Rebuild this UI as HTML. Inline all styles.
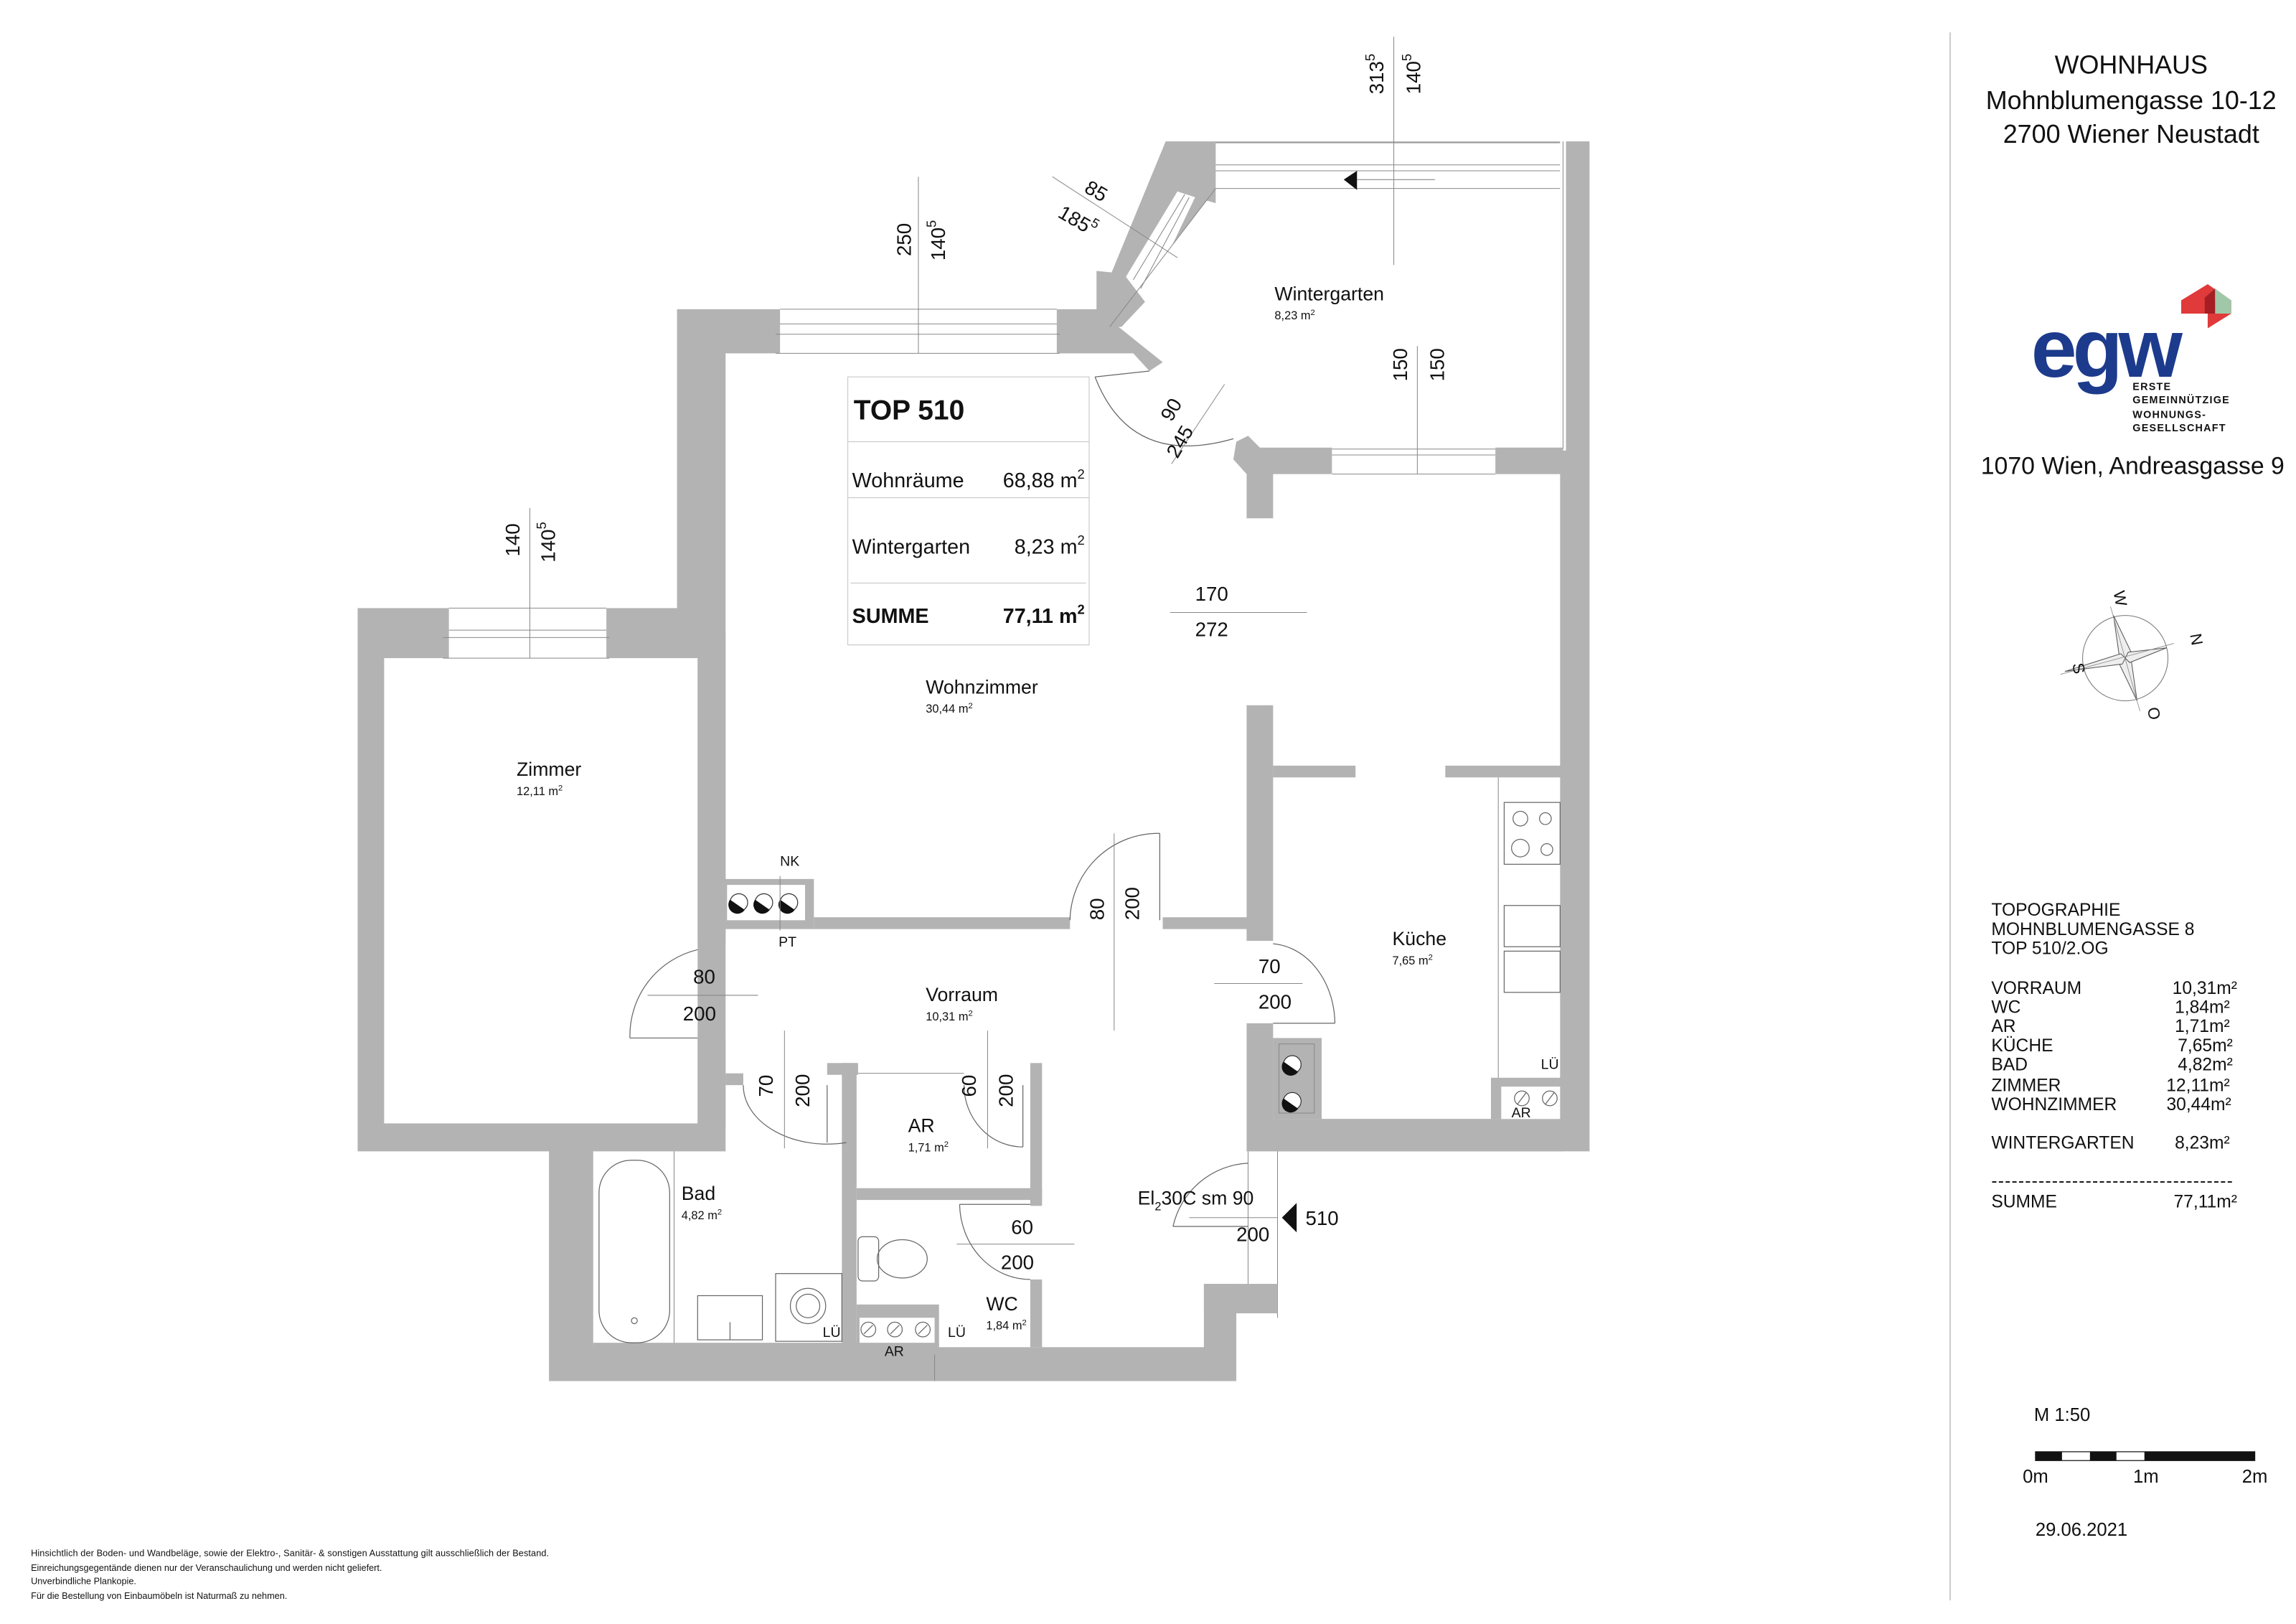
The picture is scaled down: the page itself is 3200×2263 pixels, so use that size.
<!DOCTYPE html>
<html><head><meta charset="utf-8"><style>
html,body{margin:0;padding:0;background:#fff}
svg{display:block}
text{font-family:"Liberation Sans",sans-serif;fill:#111}
.w{font-family:"Liberation Sans",sans-serif}
.g{fill:#b3b3b3}
.l{stroke:#666;stroke-width:.6;fill:none}
.t{stroke:#888;stroke-width:.5;fill:none}
</style></head><body>
<svg width="3200" height="2263" viewBox="0 0 1560 1103" preserveAspectRatio="none" xmlns="http://www.w3.org/2000/svg">
<rect width="1560" height="1103" fill="#fff"/>
<polygon class="g" points="243,413 460,413 460,210 745,210 792,96 1080,96 1080,782 868,782 868,872 838,872 838,938 373,938 373,782 243,782"/>
<polygon fill="#fff" points="493,240 718,240 718,222 754,222 826,128 1060,128 1060,760 865,760 865,782 848,782 848,872 818,872 818,915 403,915 403,782 493,782"/>
<rect x="261" y="447" width="213" height="316" fill="#fff"/>
<polygon class="g" points="718,222 760,222 790,246 781,252 770,240 718,240"/>
<polygon class="g" points="792,96 826,96 826,138 812,134 800,130"/>
<polygon class="g" points="745,184 765,186 778,205 762,222 745,222"/>
<polygon fill="#fff" points="765,188 800,130 812,134 778,205"/>
<line class="t" x1="770" y1="190" x2="805" y2="132"/><line class="t" x1="775" y1="196" x2="808" y2="134"/>
<line class="t" x1="754" y1="222" x2="826" y2="128"/>
<rect x="530" y="210" width="188" height="30" fill="#fff"/>
<line class="t" x1="530" y1="210" x2="718" y2="210"/><line class="t" x1="530" y1="220" x2="718" y2="220"/><line class="t" x1="527" y1="227" x2="720" y2="227"/><line class="t" x1="527" y1="240" x2="720" y2="240"/>
<rect x="305" y="413" width="107" height="34" fill="#fff"/>
<line class="t" x1="305" y1="413" x2="412" y2="413"/><line class="t" x1="305" y1="428" x2="412" y2="428"/><line class="t" x1="301" y1="433" x2="414" y2="433"/><line class="t" x1="301" y1="447" x2="414" y2="447"/>
<rect x="826" y="97" width="234" height="31" fill="#fff"/>
<line class="t" x1="826" y1="97" x2="1060" y2="97"/><line class="t" x1="826" y1="112" x2="1060" y2="112"/><line class="t" x1="826" y1="116" x2="1060" y2="116"/><line class="t" x1="826" y1="128" x2="1060" y2="128"/>
<rect x="1060" y="96" width="4" height="210" fill="#fff"/><line class="t" x1="1062" y1="96" x2="1062" y2="305"/>
<polygon class="g" points="840,300 848,296 856,304 905,304 905,322 865,322 865,352 847,352 847,322 838,312"/>
<rect class="g" x="1016" y="304" width="46" height="18"/>
<rect x="905" y="305" width="111" height="17" fill="#fff"/>
<line class="t" x1="905" y1="305" x2="1016" y2="305"/><line class="t" x1="905" y1="309" x2="1016" y2="309"/><line class="t" x1="905" y1="322" x2="1016" y2="322"/>
<rect class="g" x="474" y="430" width="19" height="210"/>
<rect class="g" x="474" y="705" width="19" height="60"/>
<rect class="g" x="553" y="623" width="174" height="8"/>
<rect class="g" x="790" y="623" width="58" height="8"/>
<rect class="g" x="847" y="479" width="18" height="160"/>
<rect class="g" x="865" y="520" width="56" height="8"/>
<rect class="g" x="982" y="520" width="80" height="8"/>
<rect class="g" x="847" y="695" width="18" height="87"/>
<rect class="g" x="848" y="760" width="214" height="22"/>
<rect class="g" x="865" y="705" width="33" height="55"/>
<rect x="869" y="709" width="24" height="47" fill="#fff" class="t"/>
<rect class="g" x="491" y="597" width="62" height="34"/>
<rect x="494" y="601" width="53" height="24" fill="#fff"/>
<g fill="#fff" stroke="#333" stroke-width=".6">
<circle cx="502" cy="613" r="6"/><circle cx="519" cy="613" r="6"/><circle cx="536" cy="613" r="6"/>
<circle cx="878" cy="723" r="6"/><circle cx="878" cy="748" r="6"/></g>
<g fill="#111"><path d="M496,611 A6,6 0 0 0 506,618 Z"/><path d="M513,611 A6,6 0 0 0 523,618 Z"/><path d="M530,611 A6,6 0 0 0 540,618 Z"/><path d="M872,721 A6,6 0 0 0 882,728 Z"/><path d="M872,746 A6,6 0 0 0 882,753 Z"/></g>
<rect class="g" x="493" y="729" width="12" height="8"/>
<rect class="g" x="562" y="722" width="21" height="8"/>
<rect class="g" x="572" y="722" width="10" height="192"/>
<rect class="g" x="700" y="722" width="8" height="97"/>
<rect class="g" x="582" y="807" width="126" height="8"/>
<rect class="g" x="700" y="869" width="8" height="46"/>
<rect class="g" x="393" y="782" width="10" height="138"/>
<rect class="g" x="403" y="912" width="235" height="8"/>
<line class="t" x1="583" y1="729" x2="655" y2="729"/>
<line class="t" x1="635" y1="920" x2="635" y2="938"/>
<rect class="g" x="582" y="886" width="56" height="28"/>
<rect x="584" y="895" width="51" height="17" fill="#fff"/>
<g class="l"><circle cx="590" cy="903" r="5"/><circle cx="608" cy="903" r="5"/><circle cx="627" cy="903" r="5"/><line x1="587" y1="906" x2="593" y2="900"/><line x1="605" y1="906" x2="611" y2="900"/><line x1="624" y1="906" x2="630" y2="900"/></g>
<rect class="l" x="407" y="788" width="48" height="124" rx="22"/>
<line class="t" x1="458" y1="782" x2="458" y2="912"/>
<circle cx="431" cy="897" r="2" class="l"/>
<rect class="l" x="474" y="880" width="44" height="30"/>
<line class="l" x1="496" y1="898" x2="496" y2="910"/>
<rect class="l" x="527" y="865" width="45" height="46"/>
<circle cx="549" cy="887" r="12" class="l"/><circle cx="549" cy="887" r="8" class="l"/>
<rect class="l" x="583" y="840" width="14" height="30" rx="3"/>
<ellipse class="l" cx="613" cy="855" rx="17" ry="13"/>
<line class="t" x1="1018" y1="528" x2="1018" y2="740"/>
<rect class="l" x="1022" y="545" width="38" height="42"/>
<g class="l"><circle cx="1033" cy="556" r="5"/><circle cx="1050" cy="556" r="4"/><circle cx="1033" cy="576" r="6"/><circle cx="1051" cy="577" r="4"/></g>
<rect class="l" x="1022" y="615" width="38" height="28"/><rect class="l" x="1022" y="646" width="38" height="28"/>
<rect class="g" x="1013" y="732" width="49" height="28"/>
<rect x="1020" y="738" width="40" height="22" fill="#fff"/>
<g class="l"><circle cx="1034" cy="746" r="5"/><circle cx="1053" cy="746" r="5"/><line x1="1031" y1="750" x2="1037" y2="742"/><line x1="1050" y1="750" x2="1056" y2="742"/></g>
<rect x="848" y="782" width="20" height="90" fill="#fff"/>
<line class="t" x1="848" y1="782" x2="848" y2="872"/><line class="t" x1="868" y1="782" x2="868" y2="895"/>
<rect class="g" x="818" y="872" width="50" height="20"/>
<rect class="g" x="818" y="872" width="22" height="66"/>
<g class="l">
<path d="M428,705 A60,60 0 0 1 474,645"/><line x1="428" y1="705" x2="474" y2="705"/>
<path d="M727,625 A60,60 0 0 1 788,566"/><line x1="788" y1="566" x2="788" y2="625"/>
<path d="M865,641 A45,55 0 0 1 907,695"/><line x1="865" y1="695" x2="907" y2="695"/>
<path d="M505,737 A57,40 0 0 0 575,776"/><line x1="562" y1="737" x2="562" y2="776"/>
<path d="M655,737 A40,42 0 0 0 695,779"/><line x1="695" y1="737" x2="695" y2="779"/>
<path d="M700,869 A48,52 0 0 1 652,818"/><line x1="652" y1="818" x2="700" y2="818"/>
<path d="M797,833 A55,55 0 0 1 848,790"/><line x1="797" y1="833" x2="848" y2="833"/>
<path d="M744,256 Q768,318 838,298"/><line x1="744" y1="256" x2="781" y2="252"/>
</g>
<g class="t">
<line x1="624" y1="120" x2="624" y2="240"/>
<line x1="715" y1="120" x2="800" y2="175"/>
<line x1="947" y1="25" x2="947" y2="180"/>
<line x1="922" y1="122" x2="975" y2="122"/>
<line x1="963" y1="235" x2="963" y2="322"/>
<line x1="795" y1="416" x2="888" y2="416"/>
<line x1="360" y1="345" x2="360" y2="447"/>
<line x1="440" y1="676" x2="515" y2="676"/>
<line x1="757" y1="566" x2="757" y2="700"/>
<line x1="825" y1="668" x2="885" y2="668"/>
<line x1="533" y1="700" x2="533" y2="780"/>
<line x1="671" y1="700" x2="671" y2="780"/>
<line x1="650" y1="845" x2="730" y2="845"/>
<line x1="808" y1="827" x2="868" y2="827"/>
<line x1="832" y1="261" x2="796" y2="315"/>
<line x1="530" y1="595" x2="530" y2="632"/>
</g>
<polygon points="922,116 922,129 913,122" fill="#111"/>
<polygon points="881,817 881,837 871,827" fill="#111"/>
<g font-size="13.5">
<text transform="translate(619,174) rotate(-90)">250</text>
<text transform="translate(642,177) rotate(-90)">140<tspan font-size="9" dy="-6">5</tspan></text>
<text transform="translate(940,64) rotate(-90)">313<tspan font-size="9" dy="-6">5</tspan></text>
<text transform="translate(965,64) rotate(-90)">140<tspan font-size="9" dy="-6">5</tspan></text>
<text transform="translate(736,130) rotate(30)">85</text>
<text transform="translate(718,147) rotate(30)">185<tspan font-size="9" dy="-6">5</tspan></text>
<text transform="translate(956,259) rotate(-90)">150</text>
<text transform="translate(981,259) rotate(-90)">150</text>
<text transform="translate(353,378) rotate(-90)">140</text>
<text transform="translate(377,382) rotate(-90)">140<tspan font-size="9" dy="-6">5</tspan></text>
<text transform="translate(796,287) rotate(-60)">90</text>
<text transform="translate(800,312) rotate(-60)">245</text>
<text x="812" y="408">170</text><text x="812" y="432">272</text>
<text x="471" y="668">80</text><text x="464" y="693">200</text>
<text transform="translate(750,625) rotate(-90)">80</text>
<text transform="translate(774,625) rotate(-90)">200</text>
<text x="855" y="661">70</text><text x="855" y="685">200</text>
<text transform="translate(525,745) rotate(-90)">70</text>
<text transform="translate(550,752) rotate(-90)">200</text>
<text transform="translate(663,745) rotate(-90)">60</text>
<text transform="translate(688,752) rotate(-90)">200</text>
<text x="687" y="838">60</text><text x="680" y="862">200</text>
<text x="773" y="818" font-size="13">El<tspan font-size="8" dy="4">2</tspan><tspan dy="-4">30C sm 90</tspan></text>
<text x="840" y="843">200</text>
<text x="887" y="832">510</text>
</g>
<rect x="576" y="256" width="164" height="182" fill="none" stroke="#ccc" stroke-width=".6"/>
<line x1="576" y1="300" x2="740" y2="300" stroke="#ccc" stroke-width=".6"/>
<line x1="576" y1="338" x2="740" y2="338" stroke="#ccc" stroke-width=".6"/>
<line x1="578" y1="396" x2="738" y2="396" stroke="#ccc" stroke-width=".6"/>
<text x="580" y="285" font-size="19" font-weight="bold">TOP 510</text>
<text x="579" y="331" font-size="14">Wohnräume</text><text x="737" y="331" font-size="14" text-anchor="end">68,88 m<tspan font-size="9" dy="-6">2</tspan></text>
<text x="579" y="376" font-size="14">Wintergarten</text><text x="737" y="376" font-size="14" text-anchor="end">8,23 m<tspan font-size="9" dy="-6">2</tspan></text>
<text x="579" y="423" font-size="14" font-weight="bold">SUMME</text><text x="737" y="423" font-size="14" font-weight="bold" text-anchor="end">77,11 m<tspan font-size="9" dy="-6">2</tspan></text>
<g font-size="13">
<text x="866" y="204">Wintergarten</text><text x="629" y="471">Wohnzimmer</text><text x="351" y="527">Zimmer</text>
<text x="946" y="642">Küche</text><text x="629" y="680">Vorraum</text><text x="617" y="769">AR</text>
<text x="463" y="815">Bad</text><text x="670" y="890">WC</text></g>
<g font-size="8">
<text x="866" y="217">8,23 m<tspan font-size="5.5" dy="-3">2</tspan></text>
<text x="629" y="484">30,44 m<tspan font-size="5.5" dy="-3">2</tspan></text>
<text x="351" y="540">12,11 m<tspan font-size="5.5" dy="-3">2</tspan></text>
<text x="946" y="655">7,65 m<tspan font-size="5.5" dy="-3">2</tspan></text>
<text x="629" y="693">10,31 m<tspan font-size="5.5" dy="-3">2</tspan></text>
<text x="617" y="782">1,71 m<tspan font-size="5.5" dy="-3">2</tspan></text>
<text x="463" y="828">4,82 m<tspan font-size="5.5" dy="-3">2</tspan></text>
<text x="670" y="903">1,84 m<tspan font-size="5.5" dy="-3">2</tspan></text>
</g>
<g font-size="9.5">
<text x="530" y="588">NK</text><text x="529" y="643">PT</text>
<text x="1047" y="726">LÜ</text><text x="1027" y="759">AR</text>
<text x="559" y="908">LÜ</text><text x="644" y="908">LÜ</text><text x="601" y="921">AR</text>
</g>
<line x1="1325" y1="22" x2="1325" y2="1087" stroke="#ccc" stroke-width="1"/>
<g font-size="17.5" text-anchor="middle">
<text x="1448" y="50">WOHNHAUS</text>
<text x="1448" y="74">Mohnblumengasse 10-12</text>
<text x="1448" y="97">2700 Wiener Neustadt</text>
<text x="1449" y="322" font-size="16.5">1070 Wien, Andreasgasse 9</text>
</g>
<polygon points="1482,204 1500,193 1516,204 1516,213 1500,223 1500,213 1482,213" fill="#e03a3a"/>
<polygon points="1498,202 1505,196 1516,204 1516,213 1505,213 1505,204" fill="#a0c8a8"/>
<polygon points="1498,202 1505,196 1505,213 1498,213" fill="#a51e24"/>
<text x="1380" y="256" font-size="56" font-weight="bold" style="fill:#1d3b8c" letter-spacing="-3">egw</text>
<g font-size="7" font-weight="bold" style="fill:#1d3b8c" letter-spacing=".6">
<text x="1449" y="265">ERSTE</text><text x="1449" y="274">GEMEINNÜTZIGE</text><text x="1449" y="284">WOHNUNGS-</text><text x="1449" y="293">GESELLSCHAFT</text></g>
<circle cx="1444" cy="447" r="29" fill="none" stroke="#777" stroke-width=".5"/>
<g fill="#eee" stroke="#555" stroke-width=".5">
<polygon points="1436,418 1448,443 1444,447 1440,446"/>
<polygon points="1452,476 1440,451 1444,447 1448,448"/>
<polygon points="1472,440 1447,450 1444,447 1446,443"/>
<polygon points="1403,456 1441,444 1444,447 1442,451"/>
</g>
<line x1="1434" y1="412" x2="1454" y2="483" stroke="#888" stroke-width=".4"/>
<line x1="1400" y1="458" x2="1477" y2="437" stroke="#888" stroke-width=".4"/>
<g font-size="11">
<text transform="translate(1436,402) rotate(80)">W</text>
<text transform="translate(1488,431) rotate(80)">N</text>
<text transform="translate(1408,451) rotate(80)">S</text>
<text transform="translate(1459,481) rotate(80)">O</text>
</g>
<g font-size="12">
<text x="1353" y="622">TOPOGRAPHIE</text><text x="1353" y="635">MOHNBLUMENGASSE 8</text><text x="1353" y="648">TOP 510/2.OG</text>
<text x="1353" y="675">VORRAUM</text><text x="1353" y="688">WC</text><text x="1353" y="701">AR</text><text x="1353" y="714">KÜCHE</text><text x="1353" y="727">BAD</text><text x="1353" y="741">ZIMMER</text><text x="1353" y="754">WOHNZIMMER</text>
<text x="1353" y="780">WINTERGARTEN</text>
<text x="1353" y="806" textLength="164">------------------------------------</text>
<text x="1353" y="820">SUMME</text>
</g>
<g font-size="12" text-anchor="end">
<text x="1520" y="675">10,31m²</text><text x="1515" y="688">1,84m²</text><text x="1515" y="701">1,71m²</text><text x="1517" y="714">7,65m²</text><text x="1517" y="727">4,82m²</text><text x="1515" y="741">12,11m²</text><text x="1516" y="754">30,44m²</text>
<text x="1515" y="780">8,23m²</text><text x="1520" y="820">77,11m²</text>
</g>
<text x="1382" y="965" font-size="12.5">M 1:50</text>
<rect x="1383" y="986" width="149" height="6" fill="#fff" stroke="#111" stroke-width=".6"/>
<rect x="1383" y="986" width="18" height="6" fill="#111"/><rect x="1420" y="986" width="18" height="6" fill="#111"/><rect x="1457" y="986" width="75" height="6" fill="#111"/>
<g font-size="12.5" text-anchor="middle"><text x="1383" y="1007">0m</text><text x="1458" y="1007">1m</text><text x="1532" y="1007">2m</text></g>
<text x="1383" y="1043" font-size="12.5">29.06.2021</text>
<g font-size="6.2">
<text x="21" y="1057" textLength="352">Hinsichtlich der Boden- und Wandbeläge, sowie der Elektro-, Sanitär- &amp; sonstigen Ausstattung gilt ausschließlich der Bestand.</text>
<text x="21" y="1067">Einreichungsgegentände dienen nur der Veranschaulichung und werden nicht geliefert.</text>
<text x="21" y="1076">Unverbindliche Plankopie.</text>
<text x="21" y="1086">Für die Bestellung von Einbaumöbeln ist Naturmaß zu nehmen.</text>
</g>
</svg>
</body></html>
